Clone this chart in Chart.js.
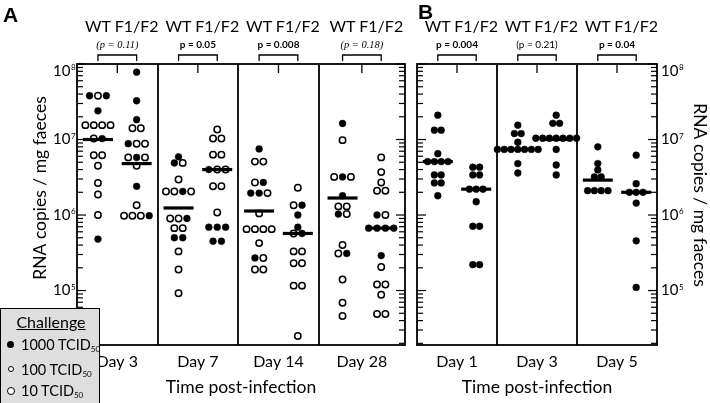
<!DOCTYPE html>
<html>
<head>
<meta charset="utf-8">
<script src="https://cdn.jsdelivr.net/npm/chart.js@4.4.1/dist/chart.umd.min.js"></script>
<style>
  body { margin: 0; width: 710px; height: 403px; position: relative; overflow: hidden; background: #fff; font-family: Lato, sans-serif; }
  canvas { position: absolute; left: 0; top: 0; }
  #legend { position: absolute; left: 0; top: 308px; width: 100px; height: 100px; background: #dedede; border: 1.5px solid #000; box-sizing: border-box; color: #000; }
  #legend .hd { position: absolute; left: 0; width: 100px; top: 5px; text-align: center; font-size: 16px; line-height: 16px; text-decoration: underline; }
  #legend .it { position: absolute; left: 20px; font-size: 14.5px; line-height: 15px; white-space: nowrap; }
  #legend sub { font-size: 8px; vertical-align: -2px; }
  #legend .dot { position: absolute; border-radius: 50%; box-sizing: border-box; }
</style>
</head>
<body>
<canvas id="chartA" width="710" height="403"></canvas>
<canvas id="chartB" width="710" height="403"></canvas>
<div id="legend">
  <div class="hd">Challenge</div>
  <span class="dot" style="left:6px;top:32px;width:7px;height:7px;background:#000"></span>
  <div class="it" style="top:28px">1000 TCID<sub>50</sub></div>
  <span class="dot" style="left:7px;top:57px;width:6px;height:6px;background:#fff;border:1.8px solid #000"></span>
  <div class="it" style="top:53px">100 TCID<sub>50</sub></div>
  <span class="dot" style="left:6px;top:78px;width:8px;height:8px;background:#fff;border:1.2px solid #000"></span>
  <div class="it" style="top:74px">10 TCID<sub>50</sub></div>
</div>
<script>
// ---- data ----
const strains = ['WT', 'F1/F2'];
const daysA = ['Day 3', 'Day 7', 'Day 14', 'Day 28'];
const daysB = ['Day 1', 'Day 3', 'Day 5'];
const pLabelsA = ['(p = 0.11)', 'p = 0.05', 'p = 0.008', '(p = 0.18)'];
const pStylesA = ['italic', 'bold', 'bold', 'italic'];
const pLabelsB = ['p = 0.004', '(p = 0.21)', 'p = 0.04'];
const pStylesB = ['bold', 'normal', 'bold'];
const decades = [1e5, 1e6, 1e7, 1e8];

// rows of dots: [RNA copies / mg faeces, challenge of each dot in the row]
// F = 1000 TCID50 (filled), o = 100 / 10 TCID50 (open)
const a3wt = [[3.8e7, 'FoF'], [2.4e7, 'F'], [1.55e7, 'oooo'], [1.03e7, 'oF'], [6.2e6, 'oo'], [4.5e6, 'o'], [2.66e6, 'o'], [1.87e6, 'o'], [1.0e6, 'o'], [4.8e5, 'F']];
const a3f = [[7.8e7, 'F'], [3.26e7, 'F'], [1.83e7, 'F'], [1.41e7, 'oo'], [8.8e6, 'Foo'], [5.8e6, 'oFo'], [4.5e6, 'o'], [2.4e6, 'F'], [1.35e6, 'o'], [9.8e5, 'oooF']];
const a7wt = [[5.9e6, 'F'], [4.9e6, 'Fo'], [2.95e6, 'o'], [2.05e6, 'ooFo'], [9.0e5, 'ooF'], [6.7e5, 'oo'], [5.0e5, 'FF'], [3.3e5, 'o'], [1.9e5, 'o'], [9.2e4, 'o']];
const a7f = [[1.36e7, 'o'], [1.03e7, 'oo'], [6.3e6, 'oo'], [4.0e6, 'Foo'], [2.4e6, 'oo'], [1.08e6, 'o'], [6.9e5, 'FFF'], [4.5e5, 'FF']];
const a14wt = [[7.5e6, 'F'], [5.1e6, 'oo'], [2.7e6, 'oF'], [1.95e6, 'FFo'], [1.05e6, 'o'], [6.5e5, 'oooo'], [4.25e5, 'o'], [2.7e5, 'Fo'], [1.9e5, 'oo']];
const a14f = [[2.3e6, 'o'], [1.35e6, 'oF'], [1.0e6, 'F'], [6.9e5, 'F'], [5.7e5, 'oF'], [3.3e5, 'oo'], [2.3e5, 'oo'], [1.16e5, 'oo'], [2.5e4, 'o']];
const a28wt = [[1.63e7, 'F'], [9.8e6, 'o'], [3.2e6, 'oFo'], [1.8e6, 'F'], [1.3e6, 'oo'], [1.03e6, 'Fo'], [4.0e5, 'o'], [3.1e5, 'oF'], [1.4e5, 'o'], [6.9e4, 'o'], [4.6e4, 'o']];
const a28f = [[5.8e6, 'o'], [3.7e6, 'o'], [2.7e6, 'o'], [2.1e6, 'oo'], [1.0e6, 'Fo'], [6.7e5, 'FFFF'], [2.9e5, 'F'], [2.05e5, 'o'], [1.2e5, 'oo'], [8.8e4, 'o'], [4.9e4, 'oo']];

const b1wt = [[2.1e7, 'F'], [1.33e7, 'FF'], [6.5e6, 'F'], [5.1e6, 'FFFF'], [3.4e6, 'FF'], [2.66e6, 'FF'], [1.8e6, 'F']];
const b1f = [[4.3e6, 'FF'], [3.4e6, 'FF'], [2.2e6, 'FFF'], [1.5e6, 'F'], [7.1e5, 'FF'], [2.2e5, 'FF']];
const b3wt = [[1.55e7, 'F'], [1.2e7, 'FF'], [9.2e6, 'F'], [7.4e6, 'FFFFFFF'], [4.8e6, 'F'], [3.6e6, 'F']];
const b3f = [[2.1e7, 'F'], [1.64e7, 'FF'], [1.04e7, 'FFFFFFF'], [7.4e6, 'F'], [4.6e6, 'F'], [3.4e6, 'F']];
const b5wt = [[8.0e6, 'F'], [4.8e6, 'F'], [3.95e6, 'F'], [3.2e6, 'FF'], [2.1e6, 'FFFF']];
const b5f = [[6.2e6, 'F'], [2.6e6, 'F'], [2.0e6, 'FFF'], [1.44e6, 'F'], [4.55e5, 'F'], [1.1e5, 'F']];

// medians [WT, F1/F2] per day
const medA = [[1.0e7, 4.8e6], [1.24e6, 4.0e6], [1.13e6, 5.7e5], [1.68e6, 6.7e5]];
const medB = [[5.1e6, 2.2e6], [7.4e6, 1.0e7], [2.9e6, 2.0e6]];

const groupsA = [[a3wt, a3f], [a7wt, a7f], [a14wt, a14f], [a28wt, a28f]];
const groupsB = [[b1wt, b1f], [b3wt, b3f], [b5wt, b5f]];

// ---- drawing ----
function ln(ctx, x1, y1, x2, y2) {
    ctx.beginPath();
    ctx.moveTo(x1, y1);
    ctx.lineTo(x2, y2);
    ctx.stroke();
}

const decor = {
    id: 'decor',
    afterDraw(chart, args, o) {
        const ctx = chart.ctx, a = chart.chartArea;
        const xs = chart.scales.x, ys = chart.scales.y;
        ctx.save();
        ctx.strokeStyle = '#000';
        ctx.fillStyle = '#000';

        // box and day separators
        ctx.lineWidth = 1.8;
        ctx.strokeRect(a.left, a.top, a.right - a.left, a.bottom - a.top);
        o.slots.slice(1, -1).forEach(s => {
            const px = Math.round(xs.getPixelForValue(s));
            ln(ctx, px, a.top, px, a.bottom);
        });

        // inward log ticks on both sides
        ctx.lineWidth = 1.2;
        for (let e = 4; e <= 8; e++) {
            for (let m = 1; m <= 9; m++) {
                const v = m * Math.pow(10, e);
                if (v < ys.min || v > ys.max) continue;
                const py = ys.getPixelForValue(v);
                const len = m === 1 ? 9 : 6;
                ln(ctx, a.left, py, a.left + len, py);
                ln(ctx, a.right, py, a.right - len, py);
            }
        }

        // decade labels 10^n
        decades.forEach(v => {
            const py = Math.max(ys.getPixelForValue(v), a.top + 7);
            const x0 = o.labelSide === 'left' ? a.left - 24 : a.right + 4;
            ctx.font = '15px Lato';
            ctx.textAlign = 'left';
            ctx.textBaseline = 'middle';
            ctx.fillText('10', x0, py);
            const w = ctx.measureText('10').width;
            ctx.font = '8px Lato';
            ctx.textBaseline = 'alphabetic';
            ctx.fillText(String(Math.round(Math.log10(v))), x0 + w + 0.5, py - 1);
        });

        // per-day texts, brackets and top ticks
        o.days.forEach((day, d) => {
            const c = (o.slots[d] + o.slots[d + 1]) / 2;
            const cx = xs.getPixelForValue(c);
            const wx = xs.getPixelForValue(c - o.half);
            const fx = xs.getPixelForValue(c + o.half);

            ctx.lineWidth = 1.3;
            ln(ctx, cx, a.top, cx, a.top + 9);
            ctx.beginPath();
            ctx.moveTo(wx, 61);
            ctx.lineTo(wx, 55);
            ctx.lineTo(fx, 55);
            ctx.lineTo(fx, 61);
            ctx.stroke();

            ctx.textAlign = 'center';
            ctx.textBaseline = 'alphabetic';
            ctx.font = '16px Lato';
            ctx.fillText(strains[0], wx, 32);
            ctx.fillText(strains[1], fx, 32);

            const st = o.pStyles[d];
            if (st === 'italic') ctx.font = 'italic 10.5px "Liberation Serif"';
            else if (st === 'bold') ctx.font = 'bold 10px Lato';
            else ctx.font = '10px Lato';
            ctx.fillText(o.pLabels[d], cx, 48);

            ctx.font = '16px Lato';
            ctx.fillText(day, cx, 367);
        });

        ctx.font = '17.5px Lato';
        ctx.textAlign = 'center';
        ctx.fillText('Time post-infection', (a.left + a.right) / 2, 393);

        ctx.font = 'bold 21px "Liberation Sans"';
        ctx.textAlign = 'left';
        ctx.fillText(o.letter, o.letterX, o.letterY);

        // axis title
        ctx.font = '17.5px Lato';
        ctx.textAlign = 'center';
        ctx.textBaseline = 'middle';
        ctx.translate(o.titleX, o.titleY);
        ctx.rotate(o.labelSide === 'left' ? -Math.PI / 2 : Math.PI / 2);
        ctx.fillText('RNA copies / mg faeces', 0, 0);
        ctx.restore();
    }
};

function makePanel(id, groups, medians, cfg) {
    const filled = [], open = [], med = [];
    groups.forEach((pair, d) => {
        const c = (cfg.slots[d] + cfg.slots[d + 1]) / 2;
        pair.forEach((rows, s) => {
            const gx = c + (s ? cfg.half : -cfg.half);
            rows.forEach(([v, pat]) => {
                [...pat].forEach((k, i) => {
                    const pt = { x: gx + (i - (pat.length - 1) / 2) * cfg.gap, y: v };
                    (k === 'F' ? filled : open).push(pt);
                });
            });
            med.push({ x: gx, y: medians[d][s] });
        });
    });

    return new Chart(document.getElementById(id), {
        type: 'scatter',
        data: {
            datasets: [
                { label: 'median', data: med, order: 0, pointStyle: 'line', pointRadius: 15, borderWidth: 3.2, borderColor: '#000' },
                { label: '1000 TCID50', data: filled, order: 1, pointRadius: 3.4, backgroundColor: '#000', borderColor: '#000', borderWidth: 0.5 },
                { label: '100/10 TCID50', data: open, order: 2, pointRadius: 3.2, backgroundColor: '#fff', borderColor: '#000', borderWidth: 1.5 }
            ]
        },
        options: {
            responsive: false,
            devicePixelRatio: 1,
            animation: false,
            events: [],
            layout: { padding: cfg.pad },
            scales: {
                x: { type: 'linear', display: false, min: cfg.slots[0], max: cfg.slots[cfg.slots.length - 1] },
                y: { type: 'logarithmic', display: false, min: 1.9e4, max: 1e8 }
            },
            plugins: {
                legend: { display: false },
                tooltip: { enabled: false },
                decor: cfg
            }
        },
        plugins: [decor]
    });
}

makePanel('chartA', groupsA, medA, {
    slots: [0, 1, 2, 3, 4.07], half: 0.24, gap: 0.104,
    pad: { left: 77, top: 64, right: 305, bottom: 58 },
    days: daysA, pLabels: pLabelsA, pStyles: pStylesA,
    labelSide: 'left', letter: 'A', letterX: 3, letterY: 22, titleX: 40, titleY: 188
});

makePanel('chartB', groupsB, medB, {
    slots: [0, 1, 2, 3], half: 0.24, gap: 0.085,
    pad: { left: 417, top: 64, right: 53, bottom: 58 },
    days: daysB, pLabels: pLabelsB, pStyles: pStylesB,
    labelSide: 'right', letter: 'B', letterX: 418, letterY: 19, titleX: 700, titleY: 195
});
</script>
</body>
</html>
